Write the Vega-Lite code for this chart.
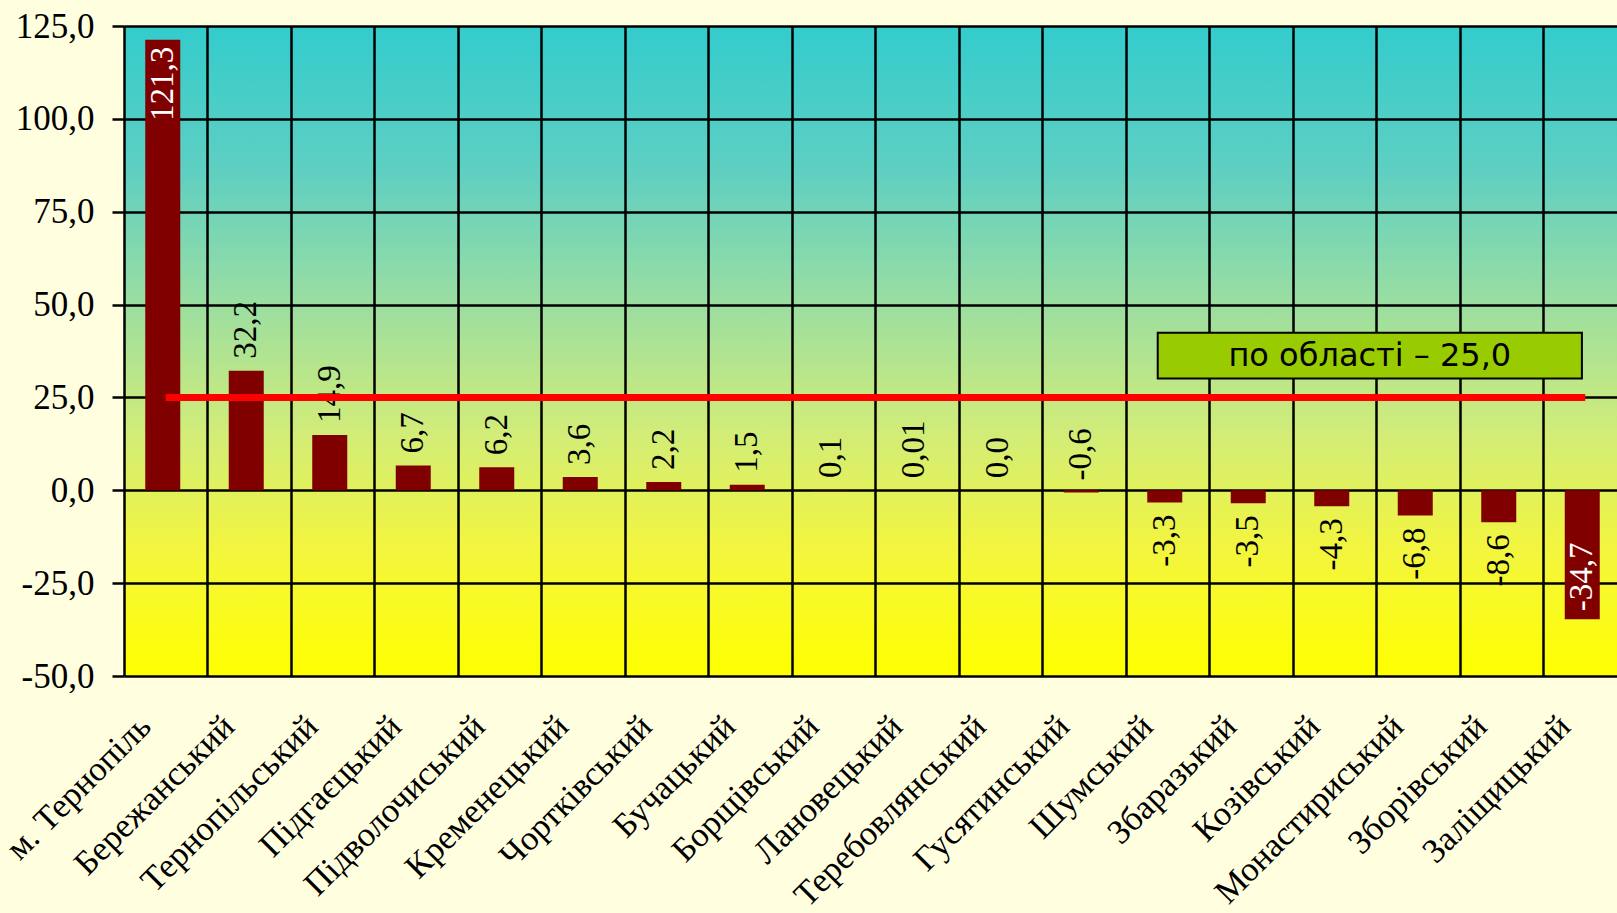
{
  "$schema": "https://vega.github.io/schema/vega-lite/v6.json",
  "autosize": "none",
  "width": 1503,
  "height": 650,
  "padding": {"left": 124, "top": 26, "right": 0, "bottom": 237},
  "background": "#FFFFE0",
  "config": {"text": {"font": "Liberation Serif"}},
  "view": {
    "stroke": null,
    "fill": {
      "gradient": "linear", "x1": 0, "y1": 0, "x2": 0, "y2": 1,
      "stops": [
        {"offset": 0, "color": "#33CCCC"},
        {"offset": 0.22, "color": "#5ECFC2"},
        {"offset": 0.4, "color": "#93DCA6"},
        {"offset": 0.62, "color": "#D0EC7A"},
        {"offset": 0.8, "color": "#F2F540"},
        {"offset": 1, "color": "#FFFF00"}
      ]
    }
  },
  "data": {
    "values": [
      {"district": "м. Тернопіль", "value": 121.3, "label": "121,3"},
      {"district": "Бережанський", "value": 32.2, "label": "32,2"},
      {"district": "Тернопільський", "value": 14.9, "label": "14,9"},
      {"district": "Підгаєцький", "value": 6.7, "label": "6,7"},
      {"district": "Підволочиський", "value": 6.2, "label": "6,2"},
      {"district": "Кременецький", "value": 3.6, "label": "3,6"},
      {"district": "Чортківський", "value": 2.2, "label": "2,2"},
      {"district": "Бучацький", "value": 1.5, "label": "1,5"},
      {"district": "Борщівський", "value": 0.1, "label": "0,1"},
      {"district": "Лановецький", "value": 0.01, "label": "0,01"},
      {"district": "Теребовлянський", "value": 0.0, "label": "0,0"},
      {"district": "Гусятинський", "value": -0.6, "label": "-0,6"},
      {"district": "Шумський", "value": -3.3, "label": "-3,3"},
      {"district": "Збаразький", "value": -3.5, "label": "-3,5"},
      {"district": "Козівський", "value": -4.3, "label": "-4,3"},
      {"district": "Монастириський", "value": -6.8, "label": "-6,8"},
      {"district": "Зборівський", "value": -8.6, "label": "-8,6"},
      {"district": "Заліщицький", "value": -34.7, "label": "-34,7"}
    ]
  },
  "layer": [
    {
      "encoding": {
        "x": {
          "field": "district", "type": "nominal", "sort": null, "title": null,
          "scale": {"paddingInner": 0, "paddingOuter": 0},
          "axis": {
            "title": null, "orient": "bottom",
            "grid": true, "gridColor": "#000000", "gridWidth": 2.5, "gridOpacity": 1,
            "bandPosition": 0, "ticks": false, "domain": false,
            "labelAngle": -45, "labelAlign": "right", "labelBaseline": "middle",
            "labelFont": "Liberation Serif", "labelFontSize": 34.5, "labelColor": "#000000",
            "labelPadding": 45, "labelOffset": -20, "labelLimit": 0, "labelOverlap": false
          }
        },
        "y": {
          "field": "value", "type": "quantitative", "title": null,
          "scale": {"domain": [-50, 125], "nice": false, "zero": false},
          "axis": {
            "title": null, "values": [-50, -25, 0, 25, 50, 75, 100, 125],
            "labelExpr": "datum.value + ',0'",
            "grid": true, "gridColor": "#000000", "gridWidth": 2.5, "gridOpacity": 1,
            "ticks": true, "tickColor": "#000000", "tickSize": 12, "tickWidth": 2.5,
            "domain": false,
            "labelFont": "Liberation Serif", "labelFontSize": 35, "labelColor": "#000000",
            "labelPadding": 18
          }
        }
      },
      "layer": [
        {"mark": {"type": "bar", "width": 35, "xOffset": -3, "color": "#800000"}},
        {
          "transform": [{"filter": "datum.value > -1 && datum.value < 100"}],
          "mark": {"type": "text", "angle": 270, "align": "left", "baseline": "middle", "dx": 12, "xOffset": -3,
                   "font": "Times New Roman", "fontSize": 33, "color": "#000000"},
          "encoding": {"text": {"field": "label"}}
        },
        {
          "transform": [{"filter": "datum.value <= -1 && datum.value > -30"}],
          "mark": {"type": "text", "angle": 270, "align": "right", "baseline": "middle", "dx": -12, "xOffset": -3,
                   "font": "Times New Roman", "fontSize": 33, "color": "#000000"},
          "encoding": {"text": {"field": "label"}}
        },
        {
          "transform": [{"filter": "datum.value >= 100"}],
          "mark": {"type": "text", "angle": 270, "align": "right", "baseline": "middle", "dx": -7, "xOffset": -3,
                   "font": "Times New Roman", "fontSize": 33, "color": "#FFFFFF"},
          "encoding": {"text": {"field": "label"}}
        },
        {
          "transform": [{"filter": "datum.value <= -30"}],
          "mark": {"type": "text", "angle": 270, "align": "left", "baseline": "middle", "dx": 8, "xOffset": -3,
                   "font": "Times New Roman", "fontSize": 33, "color": "#FFFFFF"},
          "encoding": {"text": {"field": "label"}}
        }
      ]
    },
    {
      "data": {
        "values": [
          {"lx1": 0.5, "lx2": 17.5, "ly": 25, "bx1": 12.38, "bx2": 17.46, "by1": 30.1, "by2": 42.4, "tx": 14.92, "ty": 36.2, "text": "по області – 25,0"}
        ]
      },
      "layer": [
        {
          "mark": {"type": "rule", "color": "#FF0000", "strokeWidth": 7},
          "encoding": {
            "x": {"field": "lx1", "type": "quantitative", "title": null, "scale": {"domain": [0, 18], "nice": false, "zero": false}, "axis": null},
            "x2": {"field": "lx2"},
            "y": {"field": "ly", "type": "quantitative", "title": null}
          }
        },
        {
          "mark": {"type": "rect", "color": "#99CC00", "stroke": "#000000", "strokeWidth": 2},
          "encoding": {
            "x": {"field": "bx1", "type": "quantitative", "title": null, "scale": {"domain": [0, 18], "nice": false, "zero": false}, "axis": null},
            "x2": {"field": "bx2"},
            "y": {"field": "by1", "type": "quantitative", "title": null},
            "y2": {"field": "by2"}
          }
        },
        {
          "mark": {"type": "text", "font": "DejaVu Sans", "fontSize": 32, "color": "#000000", "align": "center", "baseline": "middle"},
          "encoding": {
            "x": {"field": "tx", "type": "quantitative", "title": null, "scale": {"domain": [0, 18], "nice": false, "zero": false}, "axis": null},
            "y": {"field": "ty", "type": "quantitative", "title": null},
            "text": {"field": "text"}
          }
        }
      ]
    }
  ],
  "resolve": {"scale": {"x": "independent"}}
}
